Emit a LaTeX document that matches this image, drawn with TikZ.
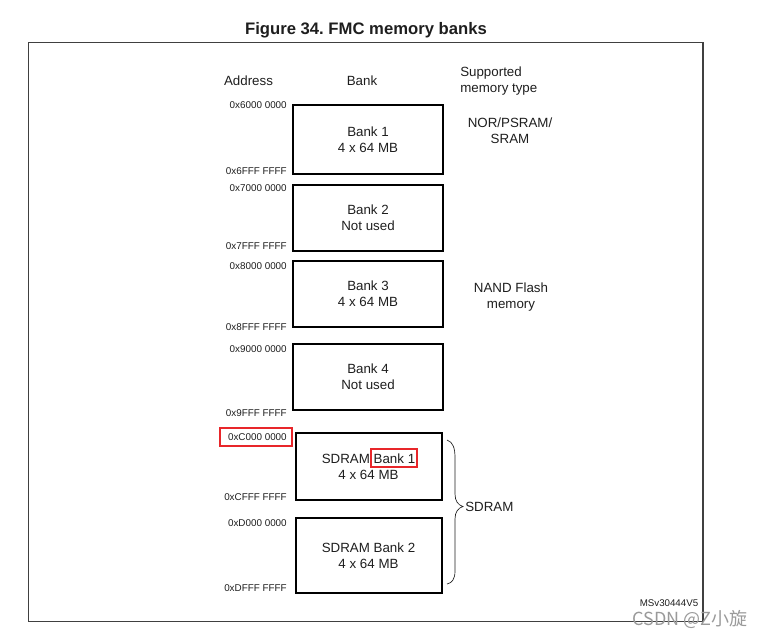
\documentclass[tikz,border=0pt]{standalone}
\usepackage{fontspec}
\setmainfont{Liberation Sans}
\newfontfamily\cjkfont{Noto Sans CJK SC}
\definecolor{txt}{HTML}{1E1E1E}
\definecolor{hl}{HTML}{E8262A}
\definecolor{wm}{HTML}{9A9A9A}
\frenchspacing
\begin{document}
\begin{tikzpicture}[x=0.75pt,y=-0.75pt,
  bankbox/.style={draw=black,line width=1.5pt,align=center,text=txt,
    font=\fontsize{10}{12}\selectfont,inner sep=0pt},
  addr/.style={anchor=east,text=txt,font=\fontsize{7.4}{9}\selectfont,inner sep=0pt},
  hdr/.style={text=txt,font=\fontsize{10}{12}\selectfont,inner sep=0pt,align=center},
  redbox/.style={draw=hl,line width=1.4pt}]
\useasboundingbox (0,0) rectangle (766,637);
% frame
\draw[draw=black!75,line width=0.9pt] (28.5,42.5) rectangle (703,621.5);
% title
\node[font=\bfseries\fontsize{12.5}{15}\selectfont,text=txt] (title) at (366,30) {Figure 34. FMC memory banks};
% headers
\node[hdr] (haddr) at (248.5,80.5) {Address};
\node[hdr] (hbank) at (362,80.5) {Bank};
\node[hdr,anchor=west,align=left] (htype) at (460,81) {Supported\\memory type};
% banks
\node[bankbox,minimum width=112.5pt,minimum height=51.75pt] (b1) at (368,139.5) {Bank 1\\4 x 64 MB};
\node[bankbox,minimum width=112.5pt,minimum height=49.5pt] (b2) at (368,217.5) {Bank 2\\Not used};
\node[bankbox,minimum width=112.5pt,minimum height=49.5pt] (b3) at (368,294) {Bank 3\\4 x 64 MB};
\node[bankbox,minimum width=112.5pt,minimum height=49.5pt] (b4) at (368,377) {Bank 4\\Not used};
\node[bankbox,minimum width=109.5pt,minimum height=50.25pt] (s1) at (368.5,466.5) {SDRAM Bank 1\\4 x 64 MB};
\node[bankbox,minimum width=109.5pt,minimum height=56.25pt] (s2) at (368.5,555.5) {SDRAM Bank 2\\4 x 64 MB};
% addresses
\node[addr] (a1) at (287,105) {0x6000 0000};
\node[addr] (a2) at (287,171) {0x6FFF FFFF};
\node[addr] (a3) at (287,188) {0x7000 0000};
\node[addr] (a4) at (287,246) {0x7FFF FFFF};
\node[addr] (a5) at (287,266) {0x8000 0000};
\node[addr] (a6) at (287,327) {0x8FFF FFFF};
\node[addr] (a7) at (287,349) {0x9000 0000};
\node[addr] (a8) at (287,413) {0x9FFF FFFF};
\node[addr] (a9) at (287,437) {0xC000 0000};
\node[addr] (a10) at (287,497) {0xCFFF FFFF};
\node[addr] (a11) at (287,523) {0xD000 0000};
\node[addr] (a12) at (287,588) {0xDFFF FFFF};
% memory types
\node[hdr] (t1) at (510,130.5) {NOR/PSRAM/\\SRAM};
\node[hdr] (t2) at (511,297.5) {NAND Flash\\memory};
\node[hdr,anchor=west] (t3) at (465,506.5) {SDRAM};
% brace
\coordinate (brtop) at (447,440);
\coordinate (brbot) at (447,584);
\draw[line width=0.5pt,draw=txt] (brtop) .. controls (453,442) and (455,448) .. (455,458)
  -- (455,494) .. controls (455,501) and (458,505) .. (463,506.5)
  .. controls (458,508) and (455,512) .. (455,519)
  -- (455,571) .. controls (455,579) and (452,583) .. (brbot);
% highlights
\draw[redbox] (220,428) rectangle (292,446);
\draw[redbox] (371,449) rectangle (417,467);
% footer
\node[text=txt,font=\fontsize{7.3}{9}\selectfont,inner sep=0pt] (ms) at (669,603.5) {MSv30444V5};
\node[text=wm,font=\cjkfont\fontsize{13.5}{16}\selectfont,inner sep=0pt] (wmk) at (690,619.5) {CSDN @Z小旋};
\end{tikzpicture}
\end{document}
